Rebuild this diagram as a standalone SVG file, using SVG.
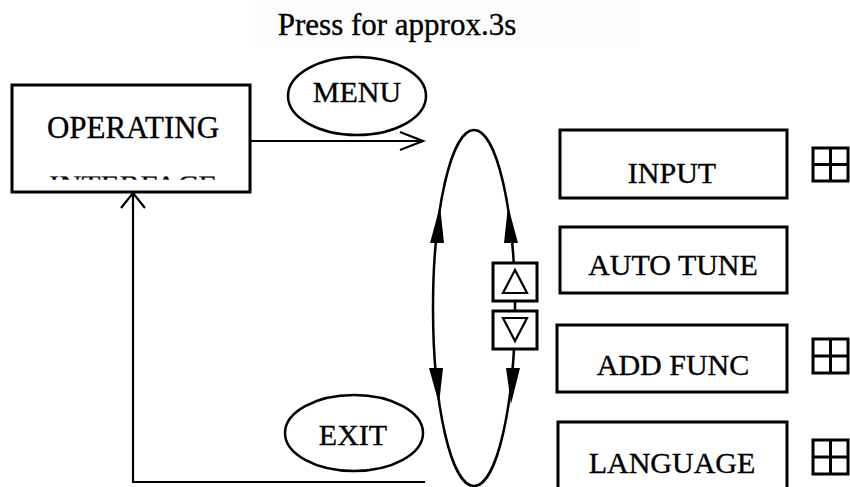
<svg xmlns="http://www.w3.org/2000/svg" width="850" height="487" viewBox="0 0 850 487">
<style>
text{font-family:"Liberation Serif","Times New Roman",serif;font-size:30px;fill:#000;stroke:#000;stroke-width:0.35;text-anchor:middle}
.box{fill:#fff;stroke:#000;stroke-width:3}
.ell{fill:none;stroke:#000;stroke-width:2.5}
.ln{fill:none;stroke:#000;stroke-width:2.2}
.ah{fill:#000;stroke:none}
.grid{fill:none;stroke:#000;stroke-width:3}
</style>
<defs>
<clipPath id="clipIF"><rect x="20" y="176.5" width="220" height="3.2"/></clipPath>
</defs>
<rect x="255" y="0" width="385" height="48" fill="#fcfcfc"/>
<text x="397" y="35" style="font-size:31px">Press for approx.3s</text>

<g id="operating">
<rect class="box" x="12" y="85" width="238" height="107"/>
<text x="133" y="138" style="font-size:31px">OPERATING</text>
<text x="133" y="197" style="font-size:31px" clip-path="url(#clipIF)">INTERFACE</text>
</g>

<g id="menu">
<ellipse class="ell" cx="357" cy="96" rx="69" ry="39"/>
<text x="357" y="102">MENU</text>
</g>

<g id="exit">
<ellipse class="ell" cx="354" cy="433" rx="69" ry="38"/>
<text x="353" y="445">EXIT</text>
</g>

<g id="connectors">
<polyline class="ln" points="250,141 422,141"/>
<polyline class="ln" points="400,132 423,141 400,150"/>
<polyline class="ln" points="425,482 133,482 133,193"/>
<polyline class="ln" points="121,208 133,193 145,208"/>
<ellipse class="ell" cx="474" cy="308" rx="41" ry="178"/>
<polygon class="ah" points="440,206 430,243 444,243"/>
<polygon class="ah" points="508,206 504,243 518,243"/>
<polygon class="ah" points="429,368 443,368 439,404"/>
<polygon class="ah" points="506,368 520,368 511,404"/>
</g>

<g id="btn-up">
<rect class="box" x="493" y="263" width="44" height="38" stroke-width="2.5"/>
<polygon points="515,270 503,293 527,293" fill="none" stroke="#000" stroke-width="2.2"/>
</g>
<g id="btn-down">
<rect class="box" x="493" y="311" width="44" height="38" stroke-width="2.5"/>
<polygon points="503,318 527,318 515,341" fill="none" stroke="#000" stroke-width="2.2"/>
</g>

<g id="input">
<rect class="box" x="560" y="130" width="227" height="68"/>
<text x="672" y="183">INPUT</text>
</g>
<g id="autotune">
<rect class="box" x="560" y="227" width="227" height="66"/>
<text x="673" y="275">AUTO TUNE</text>
</g>
<g id="addfunc">
<rect class="box" x="557" y="325" width="230" height="67"/>
<text x="673" y="375">ADD FUNC</text>
</g>
<g id="language">
<rect class="box" x="558" y="422" width="229" height="80"/>
<text x="672" y="473">LANGUAGE</text>
</g>

<g id="icon-input">
<rect class="grid" x="813" y="148" width="35" height="33"/>
<path class="grid" d="M830.5 148V181M813 164.5H848"/>
</g>
<g id="icon-addfunc">
<rect class="grid" x="813" y="339" width="35" height="34"/>
<path class="grid" d="M830.5 339V373M813 356H848"/>
</g>
<g id="icon-language">
<rect class="grid" x="813" y="440" width="35" height="34"/>
<path class="grid" d="M830.5 440V474M813 457H848"/>
</g>
</svg>
